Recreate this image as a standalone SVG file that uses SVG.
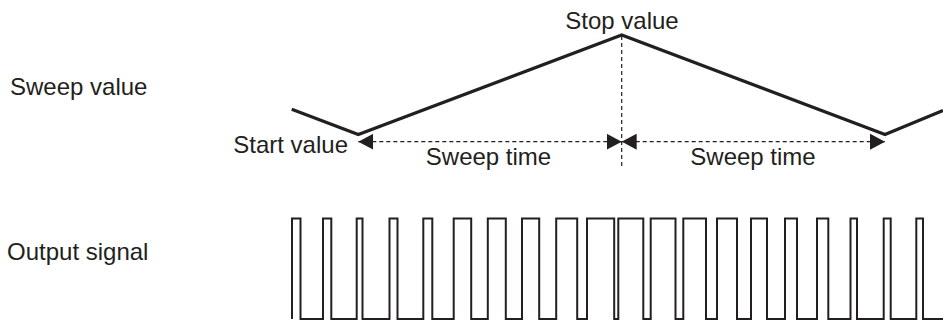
<svg xmlns="http://www.w3.org/2000/svg" width="943" height="322" viewBox="0 0 943 322">
  <style>
    .lbl { font-family: "Liberation Sans", Arial, sans-serif; font-size: 24px; fill: #231f20; }
    .sweep { fill: none; stroke: #231f20; stroke-width: 3.2; stroke-linejoin: miter; }
    .dash { fill: none; stroke: #231f20; stroke-width: 1.2; stroke-dasharray: 4 3; }
    .wave { fill: none; stroke: #231f20; stroke-width: 2; stroke-linejoin: miter; }
  </style>
  <defs>
    <marker id="arrow" viewBox="0 0 15 16" refX="15" refY="8" markerWidth="15" markerHeight="16" markerUnits="userSpaceOnUse" orient="auto-start-reverse">
      <path d="M0,0 L15,8 L0,16 Z" fill="#231f20"/>
    </marker>
  </defs>
  <rect x="0" y="0" width="943" height="322" fill="#ffffff"/>

  <g id="row-labels">
    <text class="lbl" x="10" y="95">Sweep value</text>
    <text class="lbl" x="7" y="260">Output signal</text>
  </g>

  <g id="sweep-curve">
    <polyline class="sweep" points="291.7,109.3 358.3,134.5 621.7,35 885,134.5 943,110.5"/>
  </g>

  <g id="value-labels">
    <text class="lbl" x="622" y="29" text-anchor="middle">Stop value</text>
    <text class="lbl" x="348" y="153" text-anchor="end">Start value</text>
    <text class="lbl" x="488.5" y="165" text-anchor="middle">Sweep time</text>
    <text class="lbl" x="753" y="165" text-anchor="middle">Sweep time</text>
  </g>

  <g id="connectors">
    <line class="dash" x1="621.7" y1="36" x2="621.7" y2="167"/>
    <line class="dash" x1="358.3" y1="141.7" x2="621.7" y2="141.7" marker-start="url(#arrow)" marker-end="url(#arrow)"/>
    <line class="dash" x1="621.7" y1="141.7" x2="885" y2="141.7" marker-start="url(#arrow)" marker-end="url(#arrow)"/>
  </g>

  <g id="output-signal">
    <path class="wave" d="M292,319 V218.5 H300.5 V319 H323 V218.5 H331.3 V319 H356.7 V218.5 H362.5 V319 H389.5 V218.5 H397.5 V319 H423.3 V218.5 H432.3 V319 H453.7 V218.5 H471.2 V319 H487.8 V218.5 H505.8 V319 H522 V218.5 H539.2 V319 H556.2 V218.5 H577.2 V319 H587 V218.5 H614.2 V319 H618.3 V218.5 H643.3 V319 H650.7 V218.5 H675.5 V319 H683.3 V218.5 H706 V319 H717 V218.5 H737 V319 H751 V218.5 H767 V319 H785 V218.5 H797 V319 H817 V218.5 H828.3 V319 H850.5 V218.5 H857 V319 H883.7 V218.5 H890.7 V319 H916.3 V218.5 H923 V319 H943"/>
  </g>
</svg>
